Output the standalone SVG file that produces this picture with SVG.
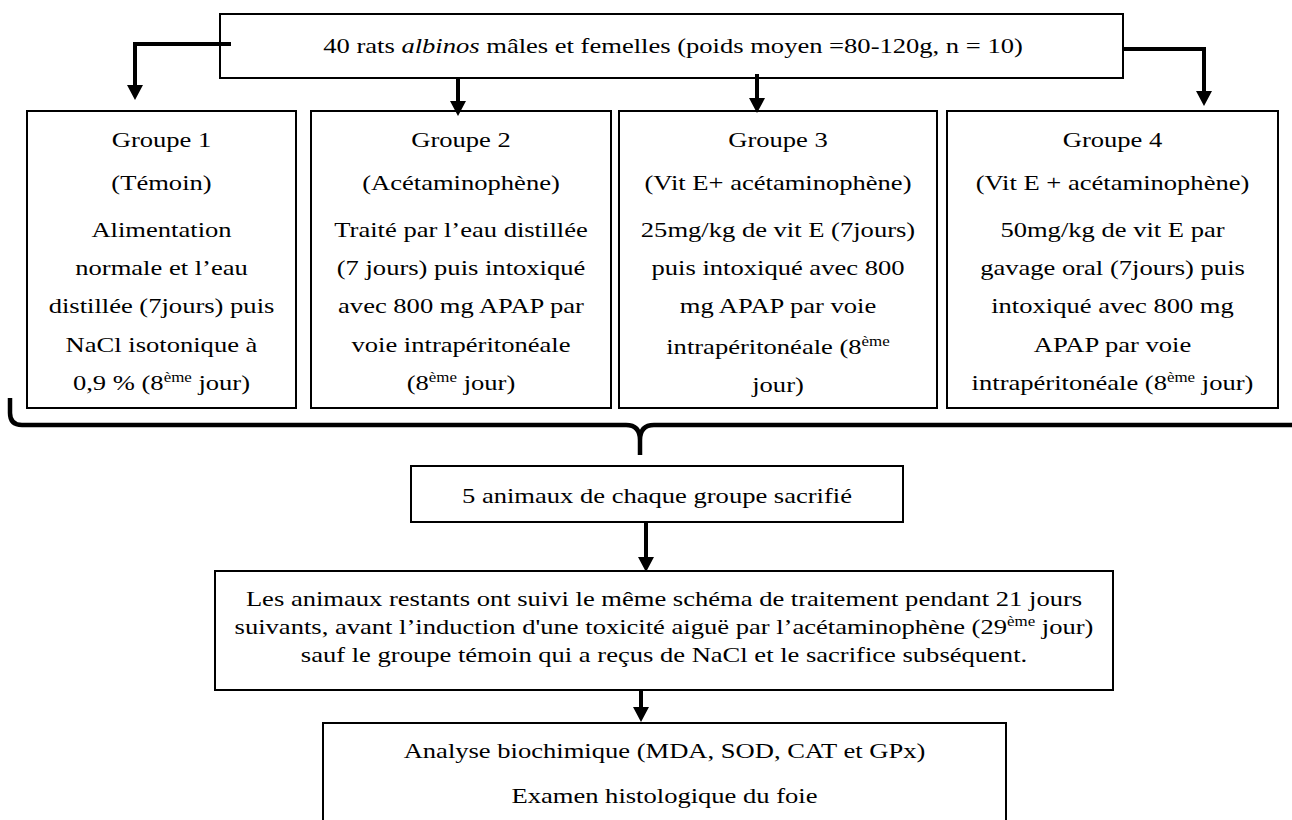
<svg xmlns="http://www.w3.org/2000/svg" width="1292" height="820" viewBox="0 0 1292 820">
<style>
.box{fill:#fff;stroke:#000;stroke-width:2}
.t{font-family:"Liberation Serif","Times New Roman",serif;font-size:22px;fill:#000;text-anchor:middle}
.sup{font-size:14px}
.conn{fill:none;stroke:#000;stroke-width:4}
.brace{fill:none;stroke:#000;stroke-width:4.5}
</style>
<defs>
<marker id="ah" markerUnits="userSpaceOnUse" markerWidth="16" markerHeight="16" refX="2" refY="8" orient="auto">
<path d="M0,0 L15,8 L0,16 z" fill="#000"/>
</marker>
</defs>
<rect width="1292" height="820" fill="#fff"/>

<g id="top">
<rect class="box" x="220" y="14" width="903" height="64"/>
<g transform="translate(673,0) scale(1.208,1)">
<text class="t" x="0" y="53">40 rats <tspan font-style="italic">albinos</tspan> mâles et femelles (poids moyen =80-120g, n = 10)</text>
</g>
</g>

<g id="groupe1">
<rect class="box" x="27" y="111" width="269" height="297"/>
<g transform="translate(161.5,0) scale(1.208,1)">
<text class="t" x="0" y="147">Groupe 1</text>
<text class="t" x="0" y="190">(Témoin)</text>
<text class="t" x="0" y="237">Alimentation</text>
<text class="t" x="0" y="275">normale et l’eau</text>
<text class="t" x="0" y="313">distillée (7jours) puis</text>
<text class="t" x="0" y="352">NaCl isotonique à</text>
<text class="t" x="0" y="390">0,9 % (8<tspan class="sup" dy="-8">ème</tspan><tspan dy="8"> jour)</tspan></text>
</g>
</g>

<g id="groupe2">
<rect class="box" x="311" y="111" width="300" height="297"/>
<g transform="translate(461,0) scale(1.208,1)">
<text class="t" x="0" y="147">Groupe 2</text>
<text class="t" x="0" y="190">(Acétaminophène)</text>
<text class="t" x="0" y="237">Traité par l’eau distillée</text>
<text class="t" x="0" y="275">(7 jours) puis intoxiqué</text>
<text class="t" x="0" y="313">avec 800 mg APAP par</text>
<text class="t" x="0" y="352">voie intrapéritonéale</text>
<text class="t" x="0" y="390">(8<tspan class="sup" dy="-8">ème</tspan><tspan dy="8"> jour)</tspan></text>
</g>
</g>

<g id="groupe3">
<rect class="box" x="619" y="111" width="318" height="297"/>
<g transform="translate(778,0) scale(1.208,1)">
<text class="t" x="0" y="147">Groupe 3</text>
<text class="t" x="0" y="190">(Vit E+ acétaminophène)</text>
<text class="t" x="0" y="237">25mg/kg de vit E (7jours)</text>
<text class="t" x="0" y="275">puis intoxiqué avec 800</text>
<text class="t" x="0" y="313">mg APAP par voie</text>
<text class="t" x="0" y="354">intrapéritonéale (8<tspan class="sup" dy="-8">ème</tspan></text>
<text class="t" x="0" y="392">jour)</text>
</g>
</g>

<g id="groupe4">
<rect class="box" x="947" y="111" width="331" height="297"/>
<g transform="translate(1112.5,0) scale(1.208,1)">
<text class="t" x="0" y="147">Groupe 4</text>
<text class="t" x="0" y="190">(Vit E + acétaminophène)</text>
<text class="t" x="0" y="237">50mg/kg de vit E par</text>
<text class="t" x="0" y="275">gavage oral (7jours) puis</text>
<text class="t" x="0" y="313">intoxiqué avec 800 mg</text>
<text class="t" x="0" y="352">APAP par voie</text>
<text class="t" x="0" y="390">intrapéritonéale (8<tspan class="sup" dy="-8">ème</tspan><tspan dy="8"> jour)</tspan></text>
</g>
</g>

<g id="sacrifie">
<rect class="box" x="411" y="466" width="492" height="56"/>
<g transform="translate(657,0) scale(1.208,1)">
<text class="t" x="0" y="503">5 animaux de chaque groupe sacrifié</text>
</g>
</g>

<g id="restants">
<rect class="box" x="215" y="571" width="898" height="119"/>
<g transform="translate(664,0) scale(1.208,1)">
<text class="t" x="0" y="606">Les animaux restants ont suivi le même schéma de traitement pendant 21 jours</text>
<text class="t" x="0" y="634">suivants, avant l’induction d'une toxicité aiguë par l’acétaminophène (29<tspan class="sup" dy="-8">ème</tspan><tspan dy="8"> jour)</tspan></text>
<text class="t" x="0" y="662">sauf le groupe témoin qui a reçus de NaCl et le sacrifice subséquent.</text>
</g>
</g>

<g id="analyse">
<rect class="box" x="323" y="723" width="683" height="110"/>
<g transform="translate(664.5,0) scale(1.208,1)">
<text class="t" x="0" y="758">Analyse biochimique (MDA, SOD, CAT et GPx)</text>
<text class="t" x="0" y="803">Examen histologique du foie</text>
</g>
</g>

<g id="connectors">
<path class="conn" d="M231,44 H135 V87" marker-end="url(#ah)"/>
<path class="conn" d="M458,78 V103" marker-end="url(#ah)"/>
<path class="conn" d="M757,74 V100" marker-end="url(#ah)"/>
<path class="conn" d="M1122,49 H1204 V93" marker-end="url(#ah)"/>
<path class="conn" d="M646,522 V559" marker-end="url(#ah)"/>
<path class="conn" d="M641,690 V709" marker-end="url(#ah)"/>
<path class="brace" d="M10,398 V413 Q10,425 22,425 H626 Q640,425 640,440 V455 M640,440 Q640,425 654,425 H1292"/>
</g>
</svg>
